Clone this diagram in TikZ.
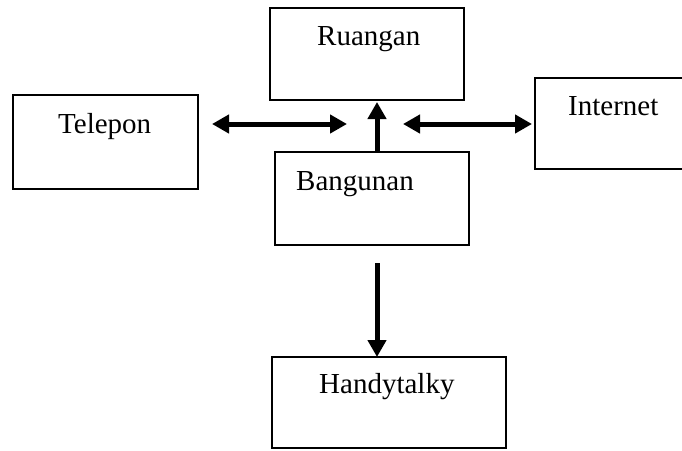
\documentclass[tikz,border=0pt]{standalone}
\usepackage{fontspec}
\setmainfont{Liberation Serif}
\usetikzlibrary{arrows.meta}

\begin{document}
\begin{tikzpicture}[x=1pt,y=-1pt,
  box/.style={draw=black, line width=1.8pt, rectangle, inner sep=0pt, outer sep=0pt},
  boxtext/.style={anchor=base west, inner sep=0pt, font=\fontsize{29}{34}\selectfont},
  thickarrow/.style={line width=5pt, -{Triangle[length=17pt,width=18pt]}},
  twoway/.style={line width=5pt, {Triangle[length=17pt,width=18pt]}-{Triangle[length=17pt,width=18pt]}}
]
  \clip (0,0) rectangle (682,450);
  \useasboundingbox (0,0) rectangle (682,450);

  % boxes
  \node[box, minimum width=194pt, minimum height=92pt] (ruangan) at (367,54) {};
  \node[box, minimum width=194pt, minimum height=93pt] (bangunan) at (372,198.5) {};
  \node[box, minimum width=234pt, minimum height=91pt] (handytalky) at (389,402.5) {};
  \node[box, minimum width=185pt, minimum height=94pt] (telepon) at (105.5,142) {};
  \node[box, minimum width=185pt, minimum height=91pt] (internet) at (627.5,123.5) {};

  % labels
  \node[boxtext] (ruangan-t) at (317,45) {Ruangan};
  \node[boxtext] (bangunan-t) at (296,190) {Bangunan};
  \node[boxtext] (handytalky-t) at (319,393) {Handytalky};
  \node[boxtext] (telepon-t) at (58,133) {Telepon};
  \node[boxtext] (internet-t) at (568,115) {Internet};

  % free ends of the connectors
  \coordinate (tel-end) at (347,124);
  \coordinate (net-start) at (403,124);
  \coordinate (axis) at (377,0);
  \coordinate (down-start) at (377,263);

  % connectors
  \draw[twoway, shorten <=14pt] (telepon.east |- tel-end) -- (tel-end);
  \draw[twoway, shorten >=3pt] (net-start) -- (net-start -| internet.west);
  \draw[thickarrow, shorten >=2pt] (bangunan.north -| axis) -- (ruangan.south -| axis);
  \draw[thickarrow] (down-start) -- (down-start |- handytalky.north);
\end{tikzpicture}
\end{document}
